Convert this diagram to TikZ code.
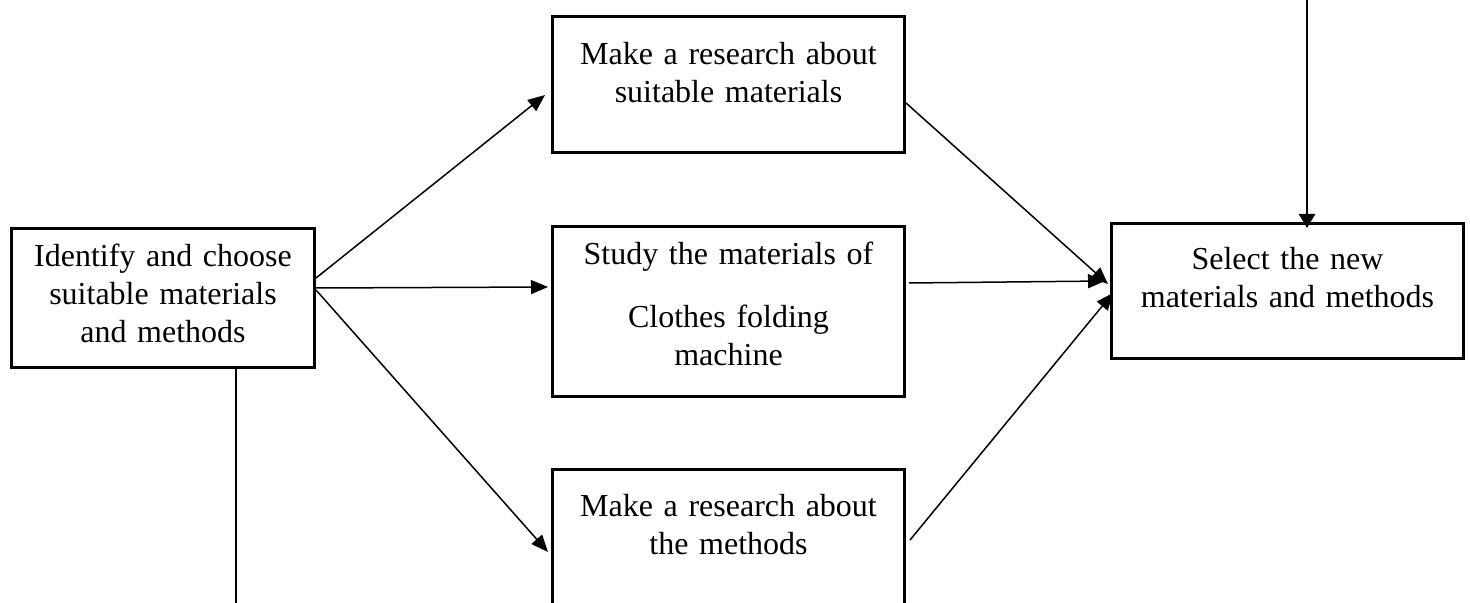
\documentclass[tikz,border=0pt]{standalone}
\usepackage{fontspec}
\setmainfont{Liberation Serif}
\usetikzlibrary{arrows.meta,calc}

\begin{document}
\begin{tikzpicture}[
        x=0.5pt, y=-0.5pt,
        box/.style={draw, line width=1.5pt, inner xsep=0pt, inner ysep=0pt,
            anchor=north west, align=center,
            font=\fontsize{16pt}{19pt}\selectfont},
        link/.style={line width=0.75pt, -{Triangle[length=8.5pt,width=7pt]}},
        feed/.style={line width=1.25pt, -{Triangle[length=7pt,width=8pt]}},
        every node/.style={color=black},
    ]
    \useasboundingbox (0,0) rectangle (1470,603);
    \clip (0,0) rectangle (1470,603);
    % boxes
    \node[box, text width=151.5pt, text height=19pt, text depth=50.5pt]
        at (10,227) (ident) {Identify and choose\\suitable materials\\and methods};
    \node[box, text width=176pt, text height=24pt, text depth=44pt]
        at (551,15) (research) {Make a research about\\suitable materials};
    \node[box, text width=176pt, text height=19pt, text depth=66pt]
        at (551,225) (study) {Study the materials of\\[12.5pt]Clothes folding\\machine};
    \node[box, text width=176pt, text height=23.5pt, text depth=62.5pt]
        at (551,468) (methods) {Make a research about\\the methods};
    \node[box, text width=176pt, text height=23pt, text depth=44.5pt]
        at (1110,222) (select) {Select the new\\materials and methods};

    % free ends
    \coordinate (top) at (1307,-5);
    \coordinate (down) at (236,620);

    % arrows
    \draw[link] ($(ident.north east)+(0,51)$) -- ($(research.north west)+(-6,80)$);
    \draw[link] ($(ident.north east)+(0,61)$) -- ($(study.north west)+(-3,62)$);
    \draw[link] ($(ident.north east)+(0,63)$) -- ($(methods.north west)+(-3,84)$);
    \draw[link] ($(research.north east)+(0,88)$) -- ($(select.north west)+(-2,62)$);
    \draw[link] ($(study.north east)+(3,58)$) -- ($(select.north west)+(-5,59)$);
    \draw[link] ($(methods.north east)+(4,72)$) -- ($(select.north west)+(3,71)$);
    \draw[feed] (top) -- ($(select.north west)+(197,6)$);
    \draw[line width=0.75pt] ($(ident.south west)+(226,0)$) -- (down);
\end{tikzpicture}
\end{document}
